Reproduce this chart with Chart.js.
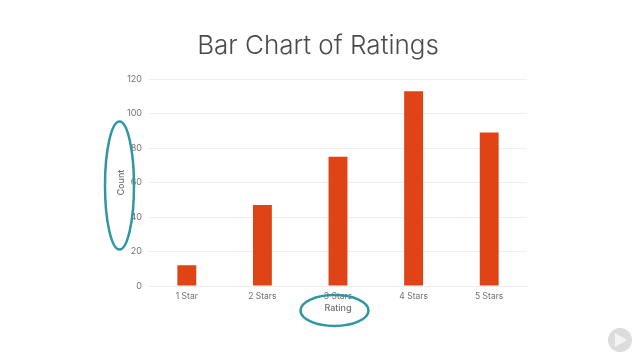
<!DOCTYPE html>
<html>
<head>
<meta charset="utf-8">
<style>
  html, body { margin: 0; padding: 0; background: #fff; }
  canvas { display: block; }
</style>
<script src="https://cdn.jsdelivr.net/npm/chart.js@4"></script>
</head>
<body>
<canvas id="myChart" width="640" height="360"></canvas>
<script>
var categories = ["1 Star", "2 Stars", "3 Stars", "4 Stars", "5 Stars"];
var counts = [12, 47, 75, 113, 89];
var yTicks = [0, 20, 40, 60, 80, 100, 120];

var textGrey = "#707070";

// teal circles and the little logo sit on top of the chart
var overlay = {
	id: "overlay",
	afterDraw: function (chart) {
		var c = chart.ctx;
		c.save();
		c.strokeStyle = "#2f96a3";
		c.lineWidth = 2.5;
		c.beginPath();
		c.ellipse(119.5, 185.5, 14.5, 64, 0, 0, Math.PI * 2);
		c.stroke();
		c.beginPath();
		c.ellipse(334.5, 310.5, 34, 15.5, 0, 0, Math.PI * 2);
		c.stroke();

		c.fillStyle = "#dcdcdc";
		c.beginPath();
		c.arc(620, 340, 12, 0, Math.PI * 2);
		c.fill();
		c.fillStyle = "#f4f4f4";
		c.beginPath();
		c.moveTo(615, 333);
		c.lineTo(627, 340);
		c.lineTo(615, 347);
		c.closePath();
		c.fill();
		c.restore();
	}
};

var ctx = document.getElementById("myChart");

var myChart = new Chart(ctx, {
	type: "bar",
	data: {
		labels: categories,
		datasets: [{
			data: counts,
			backgroundColor: "#e04316",
			barPercentage: 0.25,
			categoryPercentage: 1
		}]
	},
	plugins: [overlay],
	options: {
		responsive: false,
		animation: false,
		layout: { padding: { top: 0, right: 4, bottom: 0, left: 0 } },
		plugins: {
			legend: { display: false },
			tooltip: { enabled: false },
			title: {
				display: true,
				text: "Bar Chart of Ratings",
				color: "#4a4a4a",
				font: { family: "Inter", size: 26, weight: "300" },
				padding: { top: 31, bottom: 17 }
			}
		},
		scales: {
			x: {
				grid: { display: false, tickLength: 5 },
				border: { color: "#eeeeee" },
				ticks: {
					color: textGrey,
					font: { family: "Inter", size: 8.5 },
					padding: 0,
					maxRotation: 0
				},
				title: {
					display: true,
					text: "Rating",
					color: textGrey,
					font: { family: "Inter", size: 9, weight: "500" },
					padding: { top: 0, bottom: 46 }
				},
				afterFit: function (scale) { scale.height = 74; }
			},
			y: {
				min: 0,
				max: 120,
				grid: { color: "#efefef", drawTicks: false },
				border: { display: false },
				afterBuildTicks: function (scale) {
					scale.ticks = yTicks.map(function (v) { return { value: v }; });
				},
				ticks: {
					color: textGrey,
					font: { family: "Inter", size: 9 },
					padding: 7
				},
				title: {
					display: true,
					text: "Count",
					color: textGrey,
					font: { family: "Inter", size: 9, weight: "500" },
					padding: { top: 116, bottom: 0 }
				},
				afterFit: function (scale) { scale.width = 149; }
			},
			// empty axis, only holds the space right of the plot so the title stays centred on the page
			rightGap: {
				position: "right",
				grid: { display: false },
				border: { display: false },
				ticks: { display: false },
				afterFit: function (scale) { scale.width = 109; }
			}
		}
	}
});
</script>
</body>
</html>
